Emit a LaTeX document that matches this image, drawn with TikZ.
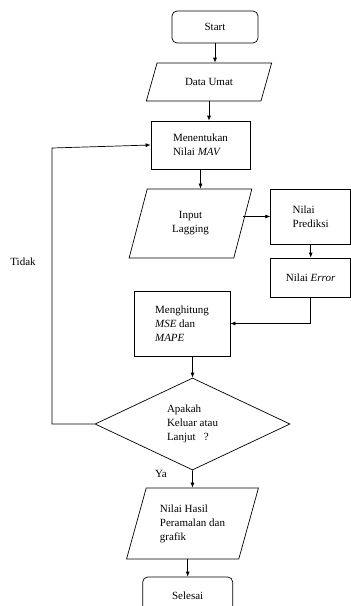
\documentclass[tikz,border=0pt]{standalone}
\usepackage{fontspec}
\setmainfont{Liberation Serif}
\usepackage{tikz}
\usetikzlibrary{shapes.geometric,arrows.meta,positioning}

\begin{document}
\begin{tikzpicture}[x=1pt,y=-1pt, line width=0.7pt,
  every node/.style={font=\fontsize{11}{14}\selectfont},
  box/.style={draw, inner sep=0pt, align=left},
  term/.style={box, rounded corners=5pt},
  io/.style={draw, trapezium, trapezium stretches=true, inner sep=0pt, align=left},
  ask/.style={draw, diamond, aspect=2, inner sep=0pt, align=left},
  arr/.style={-{Latex[length=5pt,width=4pt]}},
  lbl/.style={inner sep=0pt}
]
  \useasboundingbox (0,0) rectangle (351,606);

  \node[term, minimum width=86pt, minimum height=32pt] (start) at (215,27) {Start};
  \node[io, trapezium left angle=56, trapezium right angle=124,
        minimum width=126pt, minimum height=38pt] (data) at (209,82) {Data Umat};
  \node[box, minimum width=99pt, minimum height=48pt] (mav) at (200.5,145)
    {Menentukan\\Nilai \textit{MAV}};
  \node[io, trapezium left angle=72, trapezium right angle=108, align=center,
        minimum width=123pt, minimum height=69pt] (input) at (190.5,223.5)
    {Input\\Lagging};
  \node[box, minimum width=80pt, minimum height=55pt] (pred) at (310.7,216.5)
    {Nilai\\Prediksi};
  \node[box, minimum width=80pt, minimum height=39pt] (err) at (310.7,277.5)
    {Nilai \textit{Error}};
  \node[box, minimum width=96pt, minimum height=65pt] (mse) at (182,323.5)
    {Menghitung\\\textit{MSE} dan\\\textit{MAPE}};
  \node[ask, minimum width=195pt, minimum height=92pt] (dec) at (192.5,424)
    {Apakah\\Keluar atau\\Lanjut~~~?};
  \node[io, trapezium left angle=70, trapezium right angle=110,
        minimum width=133pt, minimum height=71pt] (out) at (192.5,523.5)
    {Nilai Hasil\\Peramalan dan\\grafik};
  \node[term, minimum width=90pt, minimum height=38pt] (end) at (187.7,596) {Selesai};

  % main flow
  \draw[arr] (start.south) -- (start.south |- data.north);
  \draw[arr] (data.south) -- (data.south |- mav.north);
  \draw[arr] (mav.south) -- (mav.south |- input.north);
  \draw[arr] (input.east |- pred.west) -- (pred.west);
  \draw[arr] (pred.south) -- (err.north);
  \draw[arr] (err.south) |- (mse.east);
  \draw[arr] (dec.north |- mse.south) -- (dec.north);
  \draw[arr] (dec.south) -- (out.north);
  \draw[arr] (end.north |- out.south) -- (end.north);

  % loop back
  \coordinate (lpa) at (52,424);
  \coordinate (lpb) at (52,148);
  \draw[arr] (dec.west) -- (lpa) -- (lpb) -- (mav.west);

  \node[lbl] (tidak) at (23,262) {Tidak};
  \node[lbl] (ya) at (161,474) {Ya};
\end{tikzpicture}
\end{document}
